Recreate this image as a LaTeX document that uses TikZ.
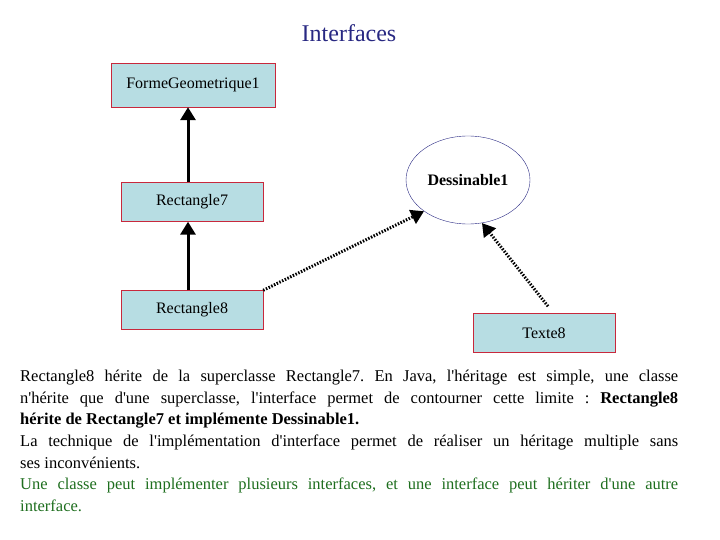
\documentclass[tikz,border=0pt]{standalone}
\usepackage{fontspec}
\setmainfont{Liberation Serif}
\usetikzlibrary{arrows.meta,shapes.geometric}
\definecolor{boxfill}{RGB}{183,221,227}
\definecolor{boxline}{RGB}{200,40,60}
\definecolor{titleblue}{RGB}{40,40,130}
\definecolor{textgreen}{RGB}{30,110,30}
\newcommand\ap{\textquotesingle}
\frenchspacing
\begin{document}
\begin{tikzpicture}
    [   x = 1pt, y = -1pt
    ,   > = {Triangle[scale=1.1]}
    ,   classbox/.style =
        {   draw = boxline
        ,   fill = boxfill
        ,   rectangle
        ,   inner sep = 0pt
        ,   font = \fontsize{16}{18}\selectfont
        }
    ,   herite/.style = {->, line width = 3pt}
    ,   implemente/.style = {->, line width = 3pt, dash pattern = on 1.5pt off 1.5pt}
    ]
    \useasboundingbox (0,0) rectangle (720,540);
    \node[text = titleblue, font = \fontsize{24}{26}\selectfont] (titre) at (349,33) {Interfaces};
    \node[classbox, minimum width = 164pt, minimum height = 44pt] (F1) at (193,85) {FormeGeometrique1};
    \node[classbox, minimum width = 142pt, minimum height = 39pt] (R7) at (192,202) {Rectangle7};
    \node[classbox, minimum width = 142pt, minimum height = 39pt] (R8) at (192,310) {Rectangle8};
    \node[classbox, minimum width = 142pt, minimum height = 39pt] (T8) at (544,333) {Texte8};
    \node[draw = titleblue, ellipse, minimum width = 124pt, minimum height = 88pt, inner sep = 0pt
        , font = \bfseries\fontsize{16}{18}\selectfont] (D1) at (468,180) {Dessinable1};
    \draw[herite] (R8.north -| 188,0) to (R7.south -| 188,0);
    \draw[herite] (R7.north -| 188,0) to (F1.south -| 188,0);
    \draw[implemente] (R8.north east) to (D1.south west);
    \draw[implemente] (T8.north) ++(4,-7) coordinate (t8a) (t8a) to (D1.-72);
    \node[anchor = north west, text width = 658pt, align = justify, inner sep = 0pt
        , font = \fontsize{16.5}{21.6}\selectfont] (texte) at (20,370)
        {Rectangle8 hérite de la superclasse Rectangle7. En Java, l\ap héritage est simple, une classe\linebreak
         n\ap hérite que d\ap une superclasse, l\ap interface permet de contourner cette limite : \textbf{Rectangle8\linebreak
         hérite de Rectangle7 et implémente Dessinable1.}\\
         La technique de l\ap implémentation d\ap interface permet de réaliser un héritage multiple sans\linebreak
         ses inconvénients.\\
         \textcolor{textgreen}{Une classe peut implémenter plusieurs interfaces, et une interface peut hériter d\ap une autre\linebreak
         interface.}};
\end{tikzpicture}
\end{document}
